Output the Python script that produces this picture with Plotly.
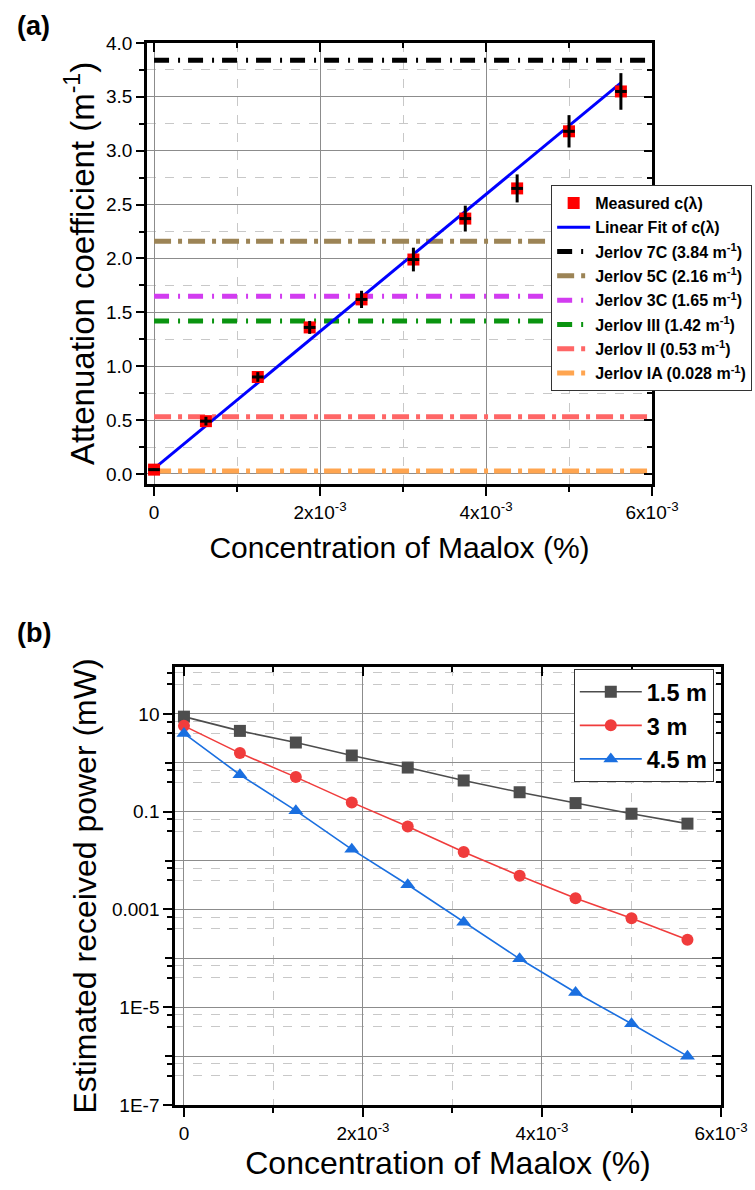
import plotly.graph_objects as go

# ---------------- data ----------------
conc = [0, 0.625e-3, 1.25e-3, 1.875e-3, 2.5e-3, 3.125e-3, 3.75e-3, 4.375e-3, 5.0e-3, 5.625e-3]
atten = [0.04, 0.49, 0.90, 1.36, 1.62, 1.99, 2.37, 2.65, 3.18, 3.55]
atten_err = [0.01, 0.04, 0.045, 0.06, 0.08, 0.11, 0.12, 0.13, 0.15, 0.17]
conc_err = [0.07e-3] * 10

fit_x = [0, 5.625e-3]
fit_y = [0.05, 3.63]

jerlov_names = ["Jerlov 7C (3.84 m<sup>-1</sup>)", "Jerlov 5C (2.16 m<sup>-1</sup>)",
                "Jerlov 3C (1.65 m<sup>-1</sup>)", "Jerlov III (1.42 m<sup>-1</sup>)",
                "Jerlov II (0.53 m<sup>-1</sup>)", "Jerlov IA (0.028 m<sup>-1</sup>)"]
jerlov_vals = [3.84, 2.16, 1.65, 1.42, 0.53, 0.028]
jerlov_x = [0, 6e-3]

p_15 = [8.8, 4.5, 2.6, 1.41, 0.80, 0.435, 0.25, 0.15, 0.091, 0.057]
p_30 = [5.7, 1.58, 0.51, 0.155, 0.050, 0.015, 0.0049, 0.0017, 6.6e-4, 2.4e-4]
p_45 = [4.0, 0.57, 0.105, 0.017, 0.0032, 5.5e-4, 9.8e-5, 2.0e-5, 4.6e-6, 1.0e-6]
dist_names = ["1.5 m", "3 m", "4.5 m"]

x_tickvals = [0, 2e-3, 4e-3, 6e-3]
x_ticktext = ["0", "2x10<sup>-3</sup>", "4x10<sup>-3</sup>", "6x10<sup>-3</sup>"]
log_label_vals = [1e-7, 1e-5, 1e-3, 1e-1, 10]
log_label_text = ["1E-7", "1E-5", "0.001", "0.1", "10"]
log_decades = [10.0 ** k for k in range(-7, 2)]
log_minor = [m * 10.0 ** k for k in range(-8, 2) for m in (4, 7)]

# ---------------- styles ----------------
FONT = "Liberation Sans, Arial, sans-serif"
jerlov_colors = ["#000000", "#9C8456", "#D23CF0", "#0A9410", "#FF6666", "#FFA550"]
jerlov_dash = ["15px,9px,2px,8px", "17px,7px,4px,6px", "15px,9px,2px,8px",
               "15px,9px,2px,8px", "17px,7px,4px,6px", "17px,7px,4px,6px"]
dist_colors = ["#4D4D4D", "#F03C3C", "#1A6FE0"]
dist_symbols = ["square", "circle", "triangle-up"]

fig = go.Figure()

# Panel (a)
for i, (nm, v) in enumerate(zip(jerlov_names, jerlov_vals)):
    fig.add_trace(go.Scatter(
        x=jerlov_x, y=[v, v], mode="lines", name=nm, legendrank=3 + i,
        legendgroup="j%d" % i,
        line=dict(color=jerlov_colors[i], width=5, dash=jerlov_dash[i]),
        xaxis="x", yaxis="y", legend="legend"))

fig.add_trace(go.Scatter(
    x=fit_x, y=fit_y, mode="lines", name="Linear Fit of c(λ)", legendrank=2,
    legendgroup="fit",
    line=dict(color="#0000FF", width=3), xaxis="x", yaxis="y", legend="legend"))

fig.add_trace(go.Scatter(
    x=conc, y=atten, mode="markers", name="Measured c(λ)", legendrank=1,
    legendgroup="meas",
    marker=dict(symbol="square", size=12, color="#FF0000"),
    xaxis="x", yaxis="y", legend="legend", cliponaxis=False))

fig.add_trace(go.Scatter(
    x=conc, y=atten, mode="markers", showlegend=False, hoverinfo="skip",
    marker=dict(size=1, color="rgba(0,0,0,0)"),
    error_y=dict(type="data", array=atten_err, thickness=3, width=0, color="black"),
    error_x=dict(type="data", array=conc_err, thickness=3, width=0, color="black"),
    xaxis="x", yaxis="y", cliponaxis=False))

# dummy trace for mirrored (inside-tick) axes of panel (a)
fig.add_trace(go.Scatter(x=conc, y=atten, mode="markers", showlegend=False,
                         marker=dict(size=1, color="rgba(0,0,0,0)"), hoverinfo="skip",
                         xaxis="x2", yaxis="y2"))

# Panel (b)
for i, (nm, ys) in enumerate(zip(dist_names, [p_15, p_30, p_45])):
    fig.add_trace(go.Scatter(
        x=conc, y=ys, mode="lines+markers", name=nm, legendgroup="d%d" % i,
        line=dict(color=dist_colors[i], width=1.6),
        marker=dict(symbol=dist_symbols[i], size=12 if i < 2 else 13, color=dist_colors[i]),
        xaxis="x3", yaxis="y3", legend="legend2", cliponaxis=False))

fig.add_trace(go.Scatter(x=conc, y=p_15, mode="markers", showlegend=False,
                         marker=dict(size=1, color="rgba(0,0,0,0)"), hoverinfo="skip",
                         xaxis="x4", yaxis="y4"))
fig.add_trace(go.Scatter(x=conc, y=p_15, mode="markers", showlegend=False,
                         marker=dict(size=1, color="rgba(0,0,0,0)"), hoverinfo="skip",
                         xaxis="x3", yaxis="y5"))

# ---------------- axes ----------------
dom_ax = [0.1947, 0.8636]
dom_ay = [0.5933, 0.9639]
dom_bx = [0.2318, 0.9550]
dom_by = [0.0714, 0.4395]

xr_a = [-0.085e-3, 6e-3]
yr_a = [-0.093, 4.0]
xr_b = [-0.1e-3, 6e-3]
yr_b = [-7, 1.96]

GRID = "#8C8C8C"
MINORGRID = "#C8C8C8"
tickfont = dict(family=FONT, size=19, color="black")

common_line = dict(showline=True, linecolor="black", linewidth=2.5, mirror=True,
                   zeroline=False, tickcolor="black", tickwidth=2, automargin=False)
plain = dict(showticklabels=False, tickwidth=2, tickcolor="black", zeroline=False,
             showline=False, automargin=False)

fig.update_layout(
    xaxis=dict(domain=dom_ax, range=xr_a, anchor="y", tickmode="array",
               tickvals=x_tickvals, ticktext=x_ticktext, ticks="outside", ticklen=9,
               showgrid=True, gridcolor=GRID, gridwidth=1, tickfont=tickfont,
               minor=dict(tick0=0, dtick=1e-3, ticks="outside", ticklen=5, tickwidth=2,
                          tickcolor="black", showgrid=True, gridcolor=MINORGRID,
                          griddash="dash", gridwidth=1),
               title=dict(text="Concentration of Maalox (%)", standoff=16,
                          font=dict(family=FONT, size=30, color="black")),
               **common_line),
    yaxis=dict(domain=dom_ay, range=yr_a, anchor="x", tick0=0, dtick=0.5,
               tickformat=".1f", ticks="outside", ticklen=8,
               showgrid=True, gridcolor=GRID, gridwidth=1, tickfont=tickfont,
               minor=dict(tick0=0, dtick=0.25, ticks="outside", ticklen=5, tickwidth=2,
                          tickcolor="black", showgrid=True, gridcolor=MINORGRID,
                          griddash="dash", gridwidth=1),
               title=dict(text="Attenuation coefficient (m<sup>-1</sup>)", standoff=2,
                          font=dict(family=FONT, size=33, color="black")),
               **common_line),
    xaxis2=dict(overlaying="x", side="top", anchor="y2", range=xr_a, tickmode="array",
                tickvals=x_tickvals, ticks="inside", ticklen=9, showgrid=False,
                minor=dict(tick0=0, dtick=1e-3, ticks="inside", ticklen=5, tickwidth=2,
                           tickcolor="black", showgrid=False), **plain),
    yaxis2=dict(overlaying="y", side="right", anchor="x2", range=yr_a, tick0=0, dtick=0.5,
                ticks="inside", ticklen=8, showgrid=False,
                minor=dict(tick0=0, dtick=0.25, ticks="inside", ticklen=5, tickwidth=2,
                           tickcolor="black", showgrid=False), **plain),
    xaxis3=dict(domain=dom_bx, range=xr_b, anchor="y3", tickmode="array",
                tickvals=x_tickvals, ticktext=x_ticktext, ticks="outside", ticklen=9,
                showgrid=True, gridcolor=GRID, gridwidth=1, tickfont=tickfont,
                minor=dict(tick0=0, dtick=1e-3, ticks="outside", ticklen=5, tickwidth=2,
                           tickcolor="black", showgrid=True, gridcolor=MINORGRID,
                           griddash="dash", gridwidth=1),
                title=dict(text="Concentration of Maalox (%)", standoff=10,
                           font=dict(family=FONT, size=32, color="black")),
                **common_line),
    yaxis3=dict(domain=dom_by, range=yr_b, anchor="x3", type="log", tickmode="array",
                tickvals=log_label_vals, ticktext=log_label_text, ticks="outside", ticklen=9,
                showgrid=False, tickfont=tickfont,
                minor=dict(tickmode="array", tickvals=log_minor, ticks="outside", ticklen=5,
                           tickwidth=2, tickcolor="black", showgrid=True,
                           gridcolor=MINORGRID, griddash="dash", gridwidth=1),
                title=dict(text="Estimated received power (mW)", standoff=6,
                           font=dict(family=FONT, size=32, color="black")),
                **common_line),
    # unlabeled decade ticks + solid decade grid on the left side
    yaxis5=dict(overlaying="y3", side="left", anchor="x3", range=yr_b, type="log",
                tickmode="array", tickvals=log_decades, ticks="outside", ticklen=9,
                showgrid=True, gridcolor=GRID, gridwidth=1, **plain),
    xaxis4=dict(overlaying="x3", side="top", anchor="y4", range=xr_b, tickmode="array",
                tickvals=x_tickvals, ticks="inside", ticklen=9, showgrid=False,
                minor=dict(tick0=0, dtick=1e-3, ticks="inside", ticklen=5, tickwidth=2,
                           tickcolor="black", showgrid=False), **plain),
    yaxis4=dict(overlaying="y3", side="right", anchor="x4", range=yr_b, type="log",
                tickmode="array", tickvals=log_decades, ticks="inside", ticklen=9,
                showgrid=False,
                minor=dict(tickmode="array", tickvals=log_minor, ticks="inside",
                           ticklen=5, tickwidth=2, tickcolor="black", showgrid=False),
                **plain),
)

fig.update_layout(
    width=755, height=1190, autosize=False,
    margin=dict(l=0, r=0, t=0, b=0, autoexpand=False),
    paper_bgcolor="white", plot_bgcolor="white",
    font=dict(family=FONT, color="black"),
    legend=dict(x=0.730, y=0.8445, xanchor="left", yanchor="top",
                bgcolor="white", bordercolor="#333333", borderwidth=1,
                traceorder="grouped", tracegroupgap=0.5,
                font=dict(family=FONT, size=16, weight="bold", color="black"),
                itemwidth=33),
    legend2=dict(x=0.760, y=0.4378, xanchor="left", yanchor="top",
                 bgcolor="white", bordercolor="#333333", borderwidth=1,
                 traceorder="grouped", tracegroupgap=0,
                 font=dict(family=FONT, size=23.5, weight="bold", color="black"),
                 itemwidth=62),
    annotations=[
        dict(text="<b>(a)</b>", x=15 / 755, y=1 - 26 / 1190, xref="paper", yref="paper",
             xanchor="left", yanchor="middle", showarrow=False,
             font=dict(family=FONT, size=27, color="black")),
        dict(text="<b>(b)</b>", x=15 / 755, y=1 - 633 / 1190, xref="paper", yref="paper",
             xanchor="left", yanchor="middle", showarrow=False,
             font=dict(family=FONT, size=27, color="black")),
    ],
    showlegend=True,
)

fig.write_html("out.html", config={"displayModeBar": False},
               post_script="document.body.style.margin='0px';"
                           "document.body.style.overflow='hidden';")
